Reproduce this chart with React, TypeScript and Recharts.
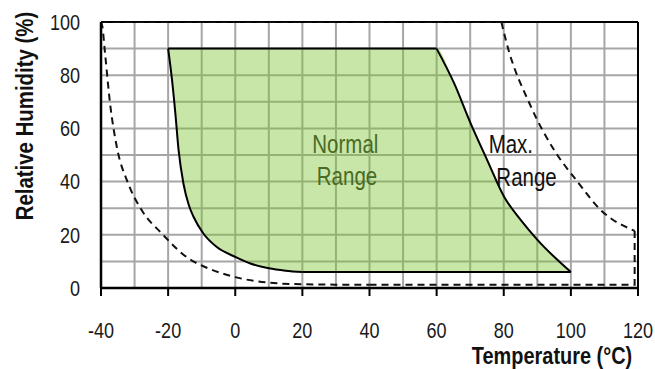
import React from "react";
import {
  ComposedChart,
  Area,
  Line,
  XAxis,
  YAxis,
  CartesianGrid,
  ReferenceLine,
  ReferenceDot,
} from "recharts";

const FONT = "'Liberation Sans', Arial, sans-serif";
const SQUEEZE = 0.82;

// axis ticks (grid every 10, labels every 20)
const tempTicks = [-40, -30, -20, -10, 0, 10, 20, 30, 40, 50, 60, 70, 80, 90, 100, 110, 120];
const rhTicks = [0, 10, 20, 30, 40, 50, 60, 70, 80, 90, 100];

// normal range boundary
const normalTopRH = 90;
const normalBottomRH = 6;
const leftEdgeT = [-20, -19, -17.8, -16.9, -15.4, -13.8, -12.4, -9.5, -5.5, 0, 4.5, 10, 15, 20];
const leftEdgeRH = [90, 80, 65, 52, 39, 31, 26.7, 20.5, 15.4, 11.7, 9.2, 7.4, 6.5, 6];
const rightEdgeT = [60, 65.2, 70.1, 75.1, 80.1, 85.1, 90.1, 100];
const rightEdgeRH = [90, 77, 62, 48, 34.3, 25.5, 18, 6];

// max range boundary (dashed)
const maxLeftT = [-40, -39.6, -38.8, -37.3, -35.3, -31.9, -27.9, -21.9, -13.9, -9, 0, 10, 20, 40];
const maxLeftRH = [100, 98.3, 88.3, 69.4, 53.1, 39.3, 29.3, 20.5, 11.1, 7.9, 4.1, 2, 1.4, 1.2];
const maxCornerT = [40, 119, 119];
const maxCornerRH = [1.2, 1.2, 21.5];
const maxRightT = [79.3, 80.6, 88.1, 95, 102, 108.9, 119];
const maxRightRH = [100, 93.3, 68.2, 51.9, 39.9, 29.3, 21.5];
const maxTopT = [-40, 79.3];
const maxTopRH = [100, 100];

const rows = (ts: number[], rhs: number[]) => ts.map((t, i) => ({ t, rh: rhs[i] }));

const fillData = [
  ...leftEdgeT.map((t, i) => ({ t, band: [leftEdgeRH[i], normalTopRH] })),
  ...rightEdgeT.map((t, i) => ({ t, band: [normalBottomRH, rightEdgeRH[i]] })),
];

const leftEdge = rows(leftEdgeT, leftEdgeRH);
const rightEdge = rows(rightEdgeT, rightEdgeRH);
const topEdge = rows([leftEdgeT[0], rightEdgeT[0]], [normalTopRH, normalTopRH]);
const bottomEdge = rows(
  [leftEdgeT[leftEdgeT.length - 1], rightEdgeT[rightEdgeT.length - 1]],
  [normalBottomRH, normalBottomRH]
);

const dash = { stroke: "#111", strokeWidth: 2, strokeDasharray: "7 5" };

const XTick = ({ x, y, payload }: any) => {
  if (payload.value % 20 !== 0) return <g />;
  return (
    <g>
      <line x1={x} x2={x} y1={y - 34} y2={y - 26} stroke="#000" strokeWidth={2} />
      <text
        transform={`translate(${x},${y}) scale(${SQUEEZE},1)`}
        textAnchor="middle"
        dy="0.71em"
        fontFamily={FONT}
        fontSize={22}
        fill="#1a1a1a"
      >
        {payload.value}
      </text>
    </g>
  );
};

const YTick = ({ x, y, payload }: any) => {
  if (payload.value % 20 !== 0) return <g />;
  return (
    <text
      transform={`translate(${x},${y}) scale(${SQUEEZE},1)`}
      textAnchor="end"
      dy="0.355em"
      fontFamily={FONT}
      fontSize={22}
      fill="#1a1a1a"
    >
      {payload.value}
    </text>
  );
};

const Note = ({ x, y, text, color, anchor }: any) => (
  <ReferenceDot
    x={x}
    y={y}
    r={0}
    isFront
    shape={(p: any) => (
      <text
        transform={`translate(${p.cx},${p.cy}) scale(${SQUEEZE},1)`}
        textAnchor={anchor}
        fontFamily={FONT}
        fontSize={25}
        fill={color}
      >
        {text}
      </text>
    )}
  />
);

export default function App() {
  return (
    <div style={{ position: "absolute", left: 0, top: 0, background: "#fff", fontFamily: FONT }}>
      <ComposedChart
        width={655}
        height={369}
        data={fillData}
        margin={{ top: 22, right: 17, left: 0, bottom: 0 }}
      >
        <CartesianGrid stroke="#a6a6a6" strokeWidth={2} />
        <XAxis
          dataKey="t"
          type="number"
          domain={[-40, 120]}
          ticks={tempTicks}
          interval={0}
          allowDataOverflow
          height={81}
          tickSize={8}
          tickMargin={26}
          tickLine={false}
          tick={<XTick />}
          axisLine={{ stroke: "#000", strokeWidth: 2.5 }}
          label={{
            content: () => (
              <text
                transform="translate(552,364) scale(0.83,1)"
                textAnchor="middle"
                fontFamily={FONT}
                fontWeight="bold"
                fontSize={24}
                fill="#111"
              >
                Temperature (°C)
              </text>
            ),
          }}
        />
        <YAxis
          type="number"
          domain={[0, 100]}
          ticks={rhTicks}
          interval={0}
          allowDataOverflow
          width={101}
          tickSize={0}
          tickMargin={21}
          tickLine={false}
          tick={<YTick />}
          axisLine={{ stroke: "#000", strokeWidth: 2.5 }}
          label={{
            content: () => (
              <text
                transform="translate(33,116) rotate(-90) scale(0.85,1)"
                textAnchor="middle"
                fontFamily={FONT}
                fontWeight="bold"
                fontSize={24}
                fill="#111"
              >
                Relative Humidity (%)
              </text>
            ),
          }}
        />
        <ReferenceLine y={100} stroke="#000" strokeWidth={2} />
        <ReferenceLine x={120} stroke="#000" strokeWidth={2} />

        <Line data={rows(maxLeftT, maxLeftRH)} dataKey="rh" type="monotone" dot={false} {...dash} isAnimationActive={false} />
        <Line data={rows(maxCornerT, maxCornerRH)} dataKey="rh" type="linear" dot={false} {...dash} isAnimationActive={false} />
        <Line data={rows(maxRightT, maxRightRH)} dataKey="rh" type="monotone" dot={false} {...dash} isAnimationActive={false} />
        <Line data={rows(maxTopT, maxTopRH)} dataKey="rh" type="linear" dot={false} {...dash} isAnimationActive={false} />

        <Line data={leftEdge} dataKey="rh" type="monotone" dot={false} stroke="#000" strokeWidth={2} isAnimationActive={false} />
        <Line data={rightEdge} dataKey="rh" type="monotone" dot={false} stroke="#000" strokeWidth={2} isAnimationActive={false} />
        <Line data={topEdge} dataKey="rh" type="linear" dot={false} stroke="#000" strokeWidth={2} isAnimationActive={false} />
        <Line data={bottomEdge} dataKey="rh" type="linear" dot={false} stroke="#000" strokeWidth={2} isAnimationActive={false} />

        <Area
          dataKey="band"
          type="monotone"
          stroke="none"
          fill="#7cc330"
          fillOpacity={0.42}
          isAnimationActive={false}
        />

        <Note x={32.8} y={50.6} text="Normal" color="#496b24" anchor="middle" />
        <Note x={33.3} y={38.9} text="Range" color="#496b24" anchor="middle" />
        <Note x={75.5} y={50.6} text="Max." color="#111" anchor="start" />
        <Note x={77.8} y={38.5} text="Range" color="#111" anchor="start" />
      </ComposedChart>
    </div>
  );
}
